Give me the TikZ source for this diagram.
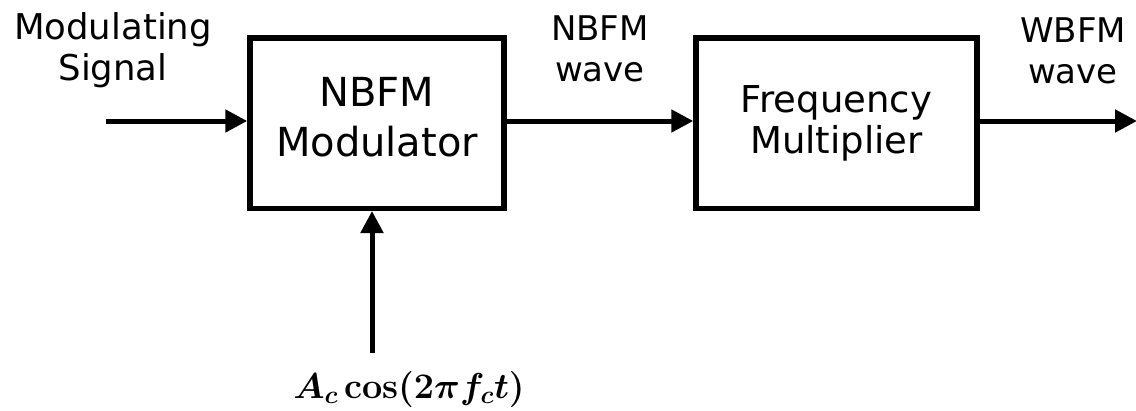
\RequirePackage{fix-cm}
\documentclass[tikz,border=0pt]{standalone}
\usepackage[no-math]{fontspec}
\usepackage{bm}
\setmainfont{DejaVu Sans}
\usetikzlibrary{arrows.meta}
\begin{document}
\begin{tikzpicture}[x=1pt,y=-1pt,
  blk/.style={draw, line width=5.5pt, inner sep=0pt, minimum height=170.5pt},
  boxtext/.style={inner sep=0pt, align=center},
  lab/.style={inner sep=0pt, align=center, font=\fontsize{34}{41}\selectfont},
  mathlab/.style={inner sep=0pt, anchor=base, font=\fontsize{36}{40}\selectfont},
  arr/.style={line width=5pt, -{Triangle[length=22pt,width=22pt]}}
]
\useasboundingbox (0,0) rectangle (1136,410);
\node[blk, minimum width=254pt] (b1) at (377,123) {};
\node[blk, minimum width=281pt] (b2) at (836.5,123) {};
\node[boxtext, font=\fontsize{40}{50}\selectfont] (t1) at (377,117.5) {NBFM\\Modulator};
\node[boxtext, font=\fontsize{37}{41}\selectfont] (t2) at (836.5,123.7) {Frequency\\Multiplier};
\node[lab, font=\fontsize{35.5}{41}\selectfont] (l1) at (113,50.6) {Modulating\\Signal};
\node[lab] (l2) at (600,48.6) {NBFM\\wave};
\node[lab] (l3) at (1073,50.5) {WBFM\\wave};
\node[mathlab] (carrier) at (409,398) {$\bm{A_c \cos(2\pi f_c t)}$};
\coordinate (in) at (106,121);
\coordinate (out) at (1137,121);
\coordinate (lo) at (372,353);
\draw[arr] (in) -- (in -| b1.west);
\draw[arr] (b1.east |- in) -- (b2.west |- in);
\draw[arr] (b2.east |- out) -- (out);
\draw[arr] (lo) -- (lo |- b1.south);
\end{tikzpicture}
\end{document}
